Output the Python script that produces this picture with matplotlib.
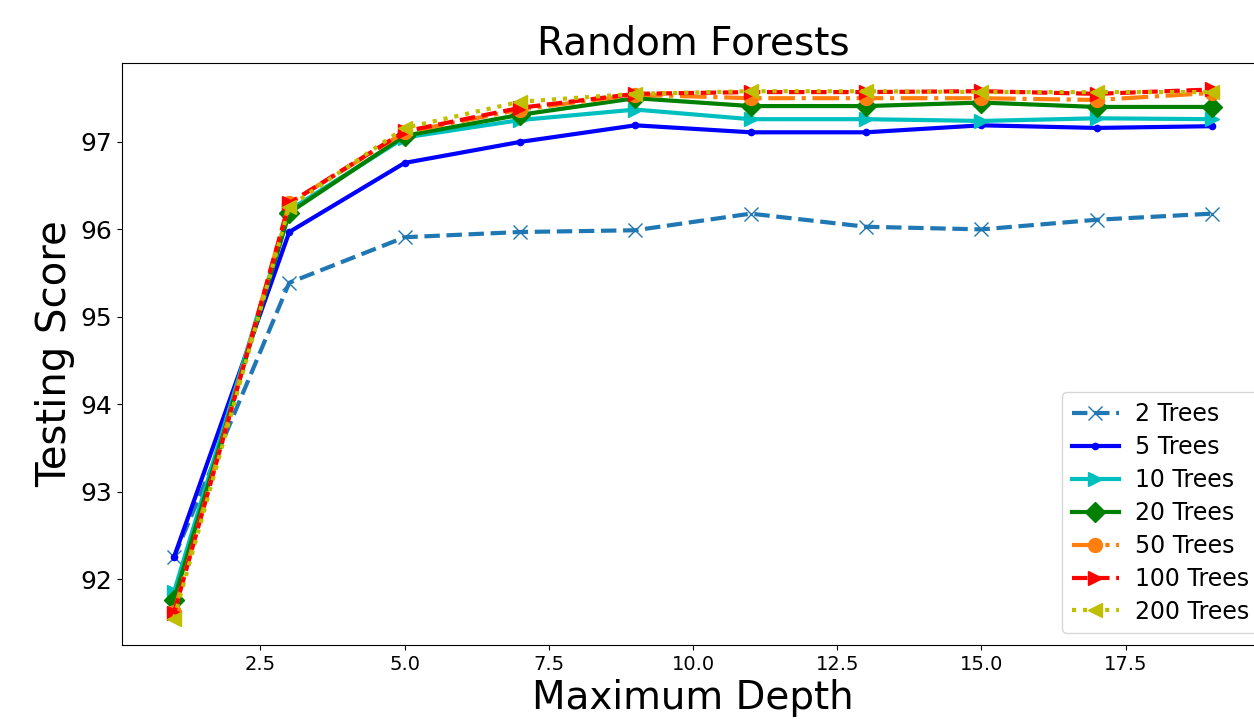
import matplotlib
matplotlib.use("Agg")
import matplotlib.pyplot as plt

plt.rcParams["font.family"] = "DejaVu Sans"

depths = [1, 3, 5, 7, 9, 11, 13, 15, 17, 19]

trees_2 = [92.25, 95.39, 95.91, 95.97, 95.99, 96.18, 96.03, 96.00, 96.11, 96.18]
trees_5 = [92.25, 95.97, 96.76, 97.00, 97.19, 97.11, 97.11, 97.19, 97.16, 97.18]
trees_10 = [91.85, 96.22, 97.05, 97.25, 97.37, 97.26, 97.26, 97.24, 97.27, 97.26]
trees_20 = [91.76, 96.19, 97.07, 97.31, 97.50, 97.41, 97.41, 97.45, 97.40, 97.40]
trees_50 = [91.62, 96.30, 97.11, 97.37, 97.54, 97.50, 97.50, 97.50, 97.48, 97.56]
trees_100 = [91.61, 96.30, 97.12, 97.39, 97.55, 97.57, 97.57, 97.58, 97.55, 97.60]
trees_200 = [91.55, 96.26, 97.16, 97.46, 97.55, 97.58, 97.58, 97.57, 97.57, 97.57]

fig = plt.figure(figsize=(12.54, 7.19), dpi=100)
# right spine sits just past the image edge, as in the original
ax = fig.add_axes([122 / 1254, 1 - 645 / 719, 1142 / 1254, 582 / 719])

lw = 3
ax.plot(depths, trees_2, "--", color="#1f77b4", marker="x", ms=10, lw=lw, label="2 Trees")
ax.plot(depths, trees_5, "-", color="b", marker=".", ms=9, lw=lw, label="5 Trees")
ax.plot(depths, trees_10, "-", color="c", marker=">", ms=10, lw=lw, label="10 Trees")
ax.plot(depths, trees_20, "-", color="g", marker="D", ms=10, lw=lw, label="20 Trees")
ax.plot(depths, trees_50, "-.", color="#ff7f0e", marker="o", ms=10, lw=lw, label="50 Trees")
ax.plot(depths, trees_100, "--", color="r", marker=">", ms=10, lw=lw, label="100 Trees")
ax.plot(depths, trees_200, ":", color="y", marker="<", ms=10, lw=lw, label="200 Trees")

ax.set_title("Random Forests", fontsize=28)
ax.set_xlabel("Maximum Depth", fontsize=28)
ax.set_ylabel("Testing Score", fontsize=29)
ax.tick_params(axis="x", labelsize=14)
ax.tick_params(axis="y", labelsize=18)
ax.legend(loc="lower right", fontsize=17, bbox_to_anchor=(1.006, 0.0),
          labelspacing=0.38, handletextpad=0.7)

fig.savefig("out.png", dpi=100)
